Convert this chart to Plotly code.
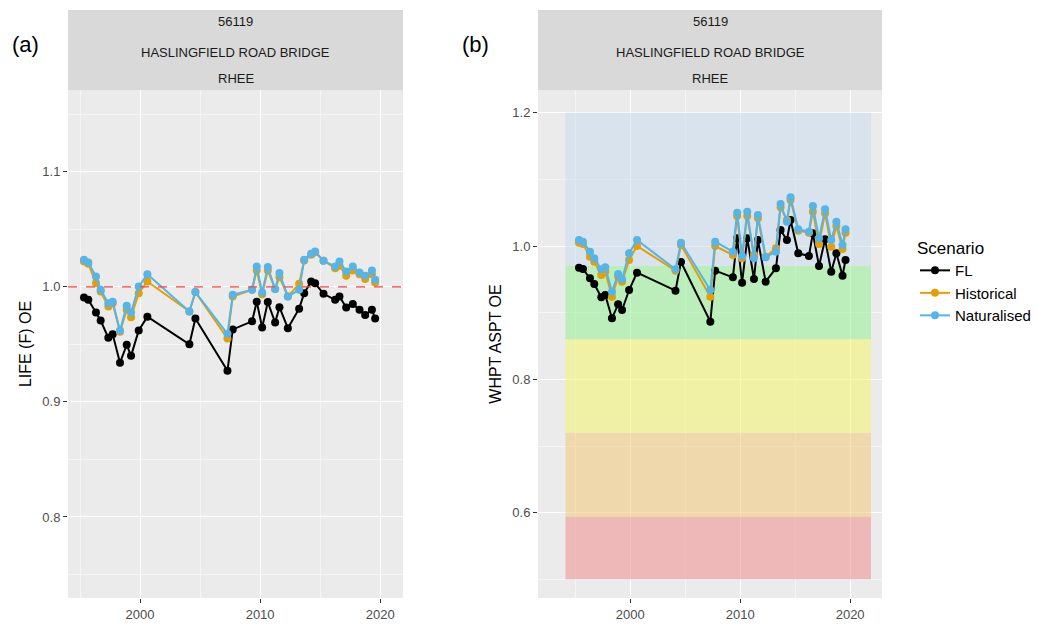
import plotly.graph_objects as go

years = [1995.33,1995.69,1996.33,1996.72,1997.36,1997.72,1998.33,1998.89,1999.25,1999.89,2000.61,
         2004.11,2004.61,2007.28,2007.72,2009.33,2009.72,2010.17,2010.64,2011.25,2011.61,2012.31,
         2013.25,2013.67,2014.25,2014.58,2015.28,2016.25,2016.61,2017.17,2017.72,2018.28,2018.75,2019.31,2019.58]

life_fl = [0.9907,0.9887,0.9777,0.9707,0.9557,0.9588,0.934,0.9496,0.940,0.962,0.974,
           0.950,0.9725,0.927,0.963,0.970,0.987,0.9646,0.9867,0.969,0.9823,0.964,
           0.981,0.9945,1.0046,1.003,0.9939,0.9887,0.9916,0.982,0.985,0.980,0.9754,0.980,0.9725]
life_hist = [1.022,1.020,1.0032,0.9959,0.9829,0.9858,0.9609,0.98,0.9736,0.9945,1.0046,
             0.9786,0.9954,0.9551,0.9916,0.9974,1.0142,0.9936,1.0142,0.998,1.0084,0.9916,
             1.0026,1.0229,1.0278,1.0299,1.0226,1.0162,1.0183,1.0096,1.0142,1.011,1.0067,1.011,1.0038]
life_nat = [1.0235,1.0212,1.009,0.9974,0.9858,0.987,0.962,0.9835,0.9777,1.0003,1.011,
            0.9786,0.9954,0.9591,0.993,0.9974,1.0177,0.9951,1.0171,0.998,1.0119,0.9916,
            0.9974,1.0235,1.0287,1.0307,1.0226,1.0177,1.022,1.0133,1.0177,1.0125,1.0096,1.0142,1.0061]

whpt_fl = [0.9675,0.9655,0.9515,0.943,0.923,0.9265,0.8915,0.9125,0.904,0.934,0.96,
           0.933,0.976,0.8865,0.963,0.953,1.0115,0.945,1.0115,0.9505,1.009,0.9465,
           0.9665,1.024,1.009,1.039,0.989,0.985,1.019,0.97,1.01,0.9615,0.989,0.9555,0.979]
whpt_hist = [1.005,1.003,0.984,0.9765,0.9565,0.9615,0.924,0.954,0.9465,0.979,1.0,
             0.963,1.0015,0.924,1.0,0.9865,1.045,0.9815,1.045,0.9865,1.0415,0.984,
             0.9965,1.058,1.039,1.069,1.023,1.02,1.0515,1.003,1.049,0.999,1.03,0.9955,1.02]
whpt_nat = [1.009,1.0065,0.9915,0.9815,0.965,0.968,0.9315,0.958,0.95,0.989,1.009,
            0.965,1.005,0.934,1.0065,0.9915,1.05,0.985,1.0515,0.9815,1.0465,0.983,
            0.9915,1.063,1.0365,1.073,1.025,1.0215,1.06,1.0115,1.055,1.009,1.0365,1.0015,1.025]

band_edges = [0.5, 0.594, 0.72, 0.86, 0.97, 1.2]
band_colors = ["rgba(240,150,150,0.6)", "rgba(240,200,120,0.55)", "rgba(245,245,120,0.6)",
               "rgba(150,240,150,0.55)", "rgba(200,220,240,0.55)"]
band_x = [1994.1, 2021.9]

series = [("FL", "#000000"), ("Historical", "#E69F00"), ("Naturalised", "#56B4E9")]
life = [life_fl, life_hist, life_nat]
whpt = [whpt_fl, whpt_hist, whpt_nat]

fig = go.Figure()
for (name, col), ya, yb in zip(series, life, whpt):
    fig.add_trace(go.Scatter(x=years, y=ya, mode="lines+markers", name=name,
                             line=dict(color=col, width=2), marker=dict(color=col, size=8),
                             xaxis="x", yaxis="y", showlegend=True))
    fig.add_trace(go.Scatter(x=years, y=yb, mode="lines+markers", name=name,
                             line=dict(color=col, width=2), marker=dict(color=col, size=8),
                             xaxis="x2", yaxis="y2", showlegend=False))

shapes = []
for i, c in enumerate(band_colors):
    shapes.append(dict(type="rect", xref="x2", yref="y2", x0=band_x[0], x1=band_x[1],
                       y0=band_edges[i], y1=band_edges[i+1], fillcolor=c, line_width=0, layer="between"))
shapes.append(dict(type="line", xref="x domain", yref="y", x0=0, x1=1, y0=1.0, y1=1.0,
                   line=dict(color="#FF4040", width=1.3, dash="dash")))
ydom = [26/624, 534/624]
for x0, x1 in [(68/1043, 403/1043), (538/1043, 882/1043)]:
    shapes.append(dict(type="rect", xref="paper", yref="paper", x0=x0, x1=x1, y0=ydom[1], y1=614/624,
                       fillcolor="#D9D9D9", line_width=0))

annotations = []
for xc in [(68+403)/2/1043, (538+882)/2/1043]:
    for t, yy in [("56119", 22), ("HASLINGFIELD ROAD BRIDGE", 52), ("RHEE", 78)]:
        annotations.append(dict(text=t, xref="paper", yref="paper", x=xc, y=1-yy/624, showarrow=False,
                                font=dict(size=13, color="#1A1A1A"), xanchor="center", yanchor="middle"))
annotations.append(dict(text="(a)", xref="paper", yref="paper", x=10/1043, y=1-45/624, showarrow=False,
                        font=dict(size=22, color="black"), xanchor="left", yanchor="middle"))
annotations.append(dict(text="(b)", xref="paper", yref="paper", x=460/1043, y=1-45/624, showarrow=False,
                        font=dict(size=22, color="black"), xanchor="left", yanchor="middle"))

axcommon = dict(showgrid=True, gridcolor="white", gridwidth=1.2, zeroline=False, ticks="outside",
                ticklen=4, tickcolor="#333333", tickfont=dict(size=13, color="#4D4D4D"), showline=False)
fig.update_layout(
    width=1043, height=624, margin=dict(l=0, r=0, t=0, b=0),
    paper_bgcolor="white", plot_bgcolor="#EBEBEB",
    font=dict(family="Liberation Sans, Arial, sans-serif"),
    xaxis=dict(domain=[68/1043, 403/1043], range=[1994.0, 2021.9], tickvals=[2000, 2010, 2020],
               minor=dict(tickvals=[1995, 2005, 2015], showgrid=True, gridcolor="#F5F5F5", ticklen=0), anchor="y", **axcommon),
    yaxis=dict(domain=ydom, range=[0.7296, 1.171], tickvals=[0.8, 0.9, 1.0, 1.1], tickformat=".1f",
               minor=dict(tickvals=[0.75, 0.85, 0.95, 1.05, 1.15], showgrid=True, gridcolor="#F5F5F5", ticklen=0),
               title=dict(text="LIFE (F) OE", font=dict(size=16, color="black"), standoff=6), anchor="x", **axcommon),
    xaxis2=dict(domain=[538/1043, 882/1043], range=[1991.6, 2022.9], tickvals=[2000, 2010, 2020],
                minor=dict(tickvals=[1995, 2005, 2015], showgrid=True, gridcolor="#F5F5F5", ticklen=0), anchor="y2", **axcommon),
    yaxis2=dict(domain=ydom, range=[0.472, 1.234], tickvals=[0.6, 0.8, 1.0, 1.2], tickformat=".1f",
                minor=dict(tickvals=[0.5, 0.7, 0.9, 1.1], showgrid=True, gridcolor="#F5F5F5", ticklen=0),
                title=dict(text="WHPT ASPT OE", font=dict(size=16, color="black"), standoff=6), anchor="x2", **axcommon),
    shapes=shapes, annotations=annotations,
    legend=dict(x=915/1043, y=1-232/624, xanchor="left", yanchor="top", bgcolor="white",
                title=dict(text="Scenario", font=dict(size=17, color="black")),
                font=dict(size=15, color="black"), itemwidth=30),
)
fig.write_html("out.html", config={"displayModeBar": False},
               post_script="document.body.style.margin='0';document.body.style.overflow='hidden';")
